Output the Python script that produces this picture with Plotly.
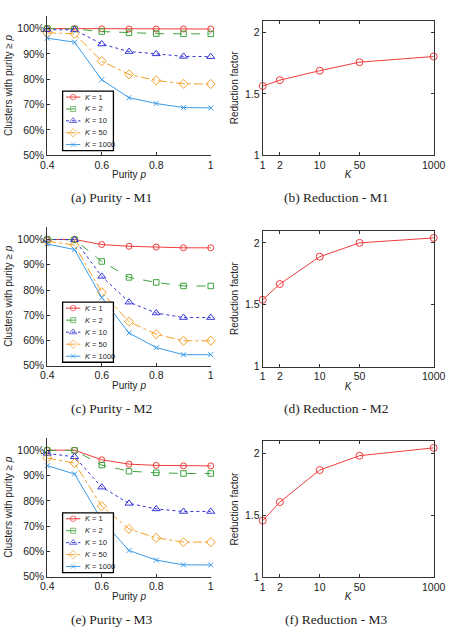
import plotly.graph_objects as go

W, H = 461, 635

purity = [0.4, 0.5, 0.6, 0.7, 0.8, 0.9, 1.0]
k_values = [1, 2, 10, 50, 1000]
k_labels = ["1", "2", "10", "50", "1000"]
pct_ticks = [50, 60, 70, 80, 90, 100]

# Purity curves (% of clusters with purity >= p), per method and K
m1_k1 = [100, 100, 99.9, 99.8, 99.8, 99.8, 99.8]
m1_k2 = [100, 99.8, 98.8, 98.3, 98.0, 97.9, 97.9]
m1_k10 = [99.5, 99.5, 93.9, 90.9, 90.0, 89.0, 88.9]
m1_k50 = [98.3, 97.9, 87.1, 81.9, 79.5, 78.2, 78.1]
m1_k1000 = [96.2, 94.6, 79.8, 72.7, 70.4, 68.8, 68.7]

m2_k1 = [100, 100, 98.0, 97.3, 97.0, 96.7, 96.7]
m2_k2 = [100, 99.9, 91.3, 85.0, 83.0, 81.6, 81.6]
m2_k10 = [100, 99.9, 85.4, 75.2, 70.9, 69.1, 69.1]
m2_k50 = [99.3, 97.8, 79.1, 67.5, 62.5, 59.9, 59.9]
m2_k1000 = [98.2, 96.0, 77.0, 63.0, 57.2, 54.4, 54.4]

m3_k1 = [100, 100, 96.2, 94.5, 94.0, 93.8, 93.8]
m3_k2 = [99.9, 99.9, 94.1, 91.7, 91.1, 90.8, 90.8]
m3_k10 = [98.7, 97.4, 85.4, 79.0, 76.8, 75.8, 75.8]
m3_k50 = [96.9, 94.9, 77.9, 68.9, 65.4, 63.7, 63.7]
m3_k1000 = [93.9, 90.6, 72.4, 60.4, 56.6, 54.7, 54.7]

# Reduction factor per K
m1_reduction = [1.565, 1.613, 1.69, 1.76, 1.806]
m2_reduction = [1.54, 1.667, 1.888, 2.0, 2.04]
m3_reduction = [1.456, 1.606, 1.864, 1.98, 2.043]

purity_sets = [
    [m1_k1, m1_k2, m1_k10, m1_k50, m1_k1000],
    [m2_k1, m2_k2, m2_k10, m2_k50, m2_k1000],
    [m3_k1, m3_k2, m3_k10, m3_k50, m3_k1000],
]
reduction_sets = [m1_reduction, m2_reduction, m3_reduction]
captions_left = ["(a) Purity - M1", "(c) Purity - M2", "(e) Purity - M3"]
captions_right = ["(b) Reduction - M1", "(d) Reduction - M2", "(f) Reduction - M3"]

# styles
colors = ["#f03c3c", "#3fa33f", "#3434d8", "#f5a028", "#3a9ae8"]
symbols = ["circle-open", "square-open", "triangle-up-open", "diamond-open", "x-thin-open"]
dashes = ["solid", "dash", "dot", "dashdot", "solid"]
msizes = [6, 5.5, 7, 7, 5]

FONT = "Liberation Sans"
TXT = "#222222"
AX = "#333333"

# pixel layout
left_x = (42, 212.5)
right_x = (266.7, 445)
left_rows = [(16, 156.7), (229, 369.3), (441.7, 582.3)]
right_rows = [(20.7, 156.7), (232.7, 370), (445, 582.7)]
legend_x = (58, 111)
legend_rows = [(92, 152), (305, 365.7), (517.7, 578)]
caption_y = [199, 412, 625]
caption_xl, caption_xr = 109, 344


def xd(a, b):
    return [a / W, b / W]


def yd(top, bottom):
    return [1 - bottom / H, 1 - top / H]


fig = go.Figure()
annotations = []
shapes = []
axes = {}

for r in range(3):
    ia, ib, il = 3 * r + 1, 3 * r + 2, 3 * r + 3
    sa = "" if ia == 1 else str(ia)

    # purity panel
    for j in range(5):
        fig.add_trace(go.Scatter(
            x=purity, y=purity_sets[r][j], mode="lines+markers",
            name="K = " + k_labels[j],
            line=dict(color=colors[j], width=1, dash=dashes[j]),
            marker=dict(symbol=symbols[j], size=msizes[j], color=colors[j],
                        line=dict(width=1, color=colors[j])),
            xaxis="x" + sa, yaxis="y" + sa, cliponaxis=False,
        ))
    axes["xaxis" + sa] = dict(
        domain=xd(*left_x), anchor="y" + sa, range=[0.4, 1.0],
        tickvals=[0.4, 0.6, 0.8, 1.0], ticktext=["0.4", "0.6", "0.8", "1"],
        showline=True, linecolor=AX, linewidth=1, mirror=False,
        ticks="inside", ticklen=3, tickcolor=AX, showgrid=False, zeroline=False,
        tickfont=dict(size=10.5, color=TXT),
        title=dict(text="Purity <i>p</i>", font=dict(size=10, color=TXT), standoff=1),
    )
    axes["yaxis" + sa] = dict(
        domain=yd(*left_rows[r]), anchor="x" + sa, range=[50, 105],
        tickvals=pct_ticks, ticktext=["%d%%" % v for v in pct_ticks],
        showline=True, linecolor=AX, linewidth=1, mirror=False,
        ticks="inside", ticklen=3, tickcolor=AX, showgrid=False, zeroline=False,
        tickfont=dict(size=10.5, color=TXT),
        title=dict(text="Clusters with purity \u2265 <i>p</i>",
                   font=dict(size=10, color=TXT), standoff=2),
    )

    # reduction panel
    fig.add_trace(go.Scatter(
        x=k_values, y=reduction_sets[r], mode="lines+markers",
        line=dict(color=colors[0], width=1),
        marker=dict(symbol="circle-open", size=7, color=colors[0],
                    line=dict(width=1, color=colors[0])),
        xaxis="x" + str(ib), yaxis="y" + str(ib), cliponaxis=False,
    ))
    axes["xaxis" + str(ib)] = dict(
        domain=xd(*right_x), anchor="y" + str(ib), type="log", range=[0, 3],
        tickvals=k_values, ticktext=k_labels,
        showline=True, linecolor=AX, linewidth=1, mirror="ticks",
        ticks="inside", ticklen=3, tickcolor=AX, showgrid=False, zeroline=False,
        tickfont=dict(size=10.5, color=TXT),
        title=dict(text="<i>K</i>", font=dict(size=10, color=TXT), standoff=1),
    )
    axes["yaxis" + str(ib)] = dict(
        domain=yd(*right_rows[r]), anchor="x" + str(ib), range=[1, 2.1],
        tickvals=[1, 1.5, 2], ticktext=["1", "1.5", "2"],
        showline=True, linecolor=AX, linewidth=1, mirror="ticks",
        ticks="inside", ticklen=3, tickcolor=AX, showgrid=False, zeroline=False,
        tickfont=dict(size=10.5, color=TXT),
        title=dict(text="Reduction factor", font=dict(size=10, color=TXT), standoff=4),
    )

    # custom legend box (drawn on its own small axes, over the purity panel)
    lw = legend_x[1] - legend_x[0]
    axes["xaxis" + str(il)] = dict(
        domain=xd(*legend_x), anchor="y" + str(il), range=[0, lw], visible=False,
    )
    axes["yaxis" + str(il)] = dict(
        domain=yd(*legend_rows[r]), anchor="x" + str(il), range=[4.5, -0.5], visible=False,
    )
    fig.add_trace(go.Scatter(
        x=[0, lw, lw, 0, 0], y=[-0.5, -0.5, 4.5, 4.5, -0.5], mode="lines",
        fill="toself", fillcolor="white", line=dict(width=0),
        xaxis="x" + str(il), yaxis="y" + str(il), hoverinfo="skip",
    ))
    shapes.append(dict(
        type="rect", xref="paper", yref="paper",
        x0=legend_x[0] / W, x1=legend_x[1] / W,
        y0=1 - legend_rows[r][1] / H, y1=1 - legend_rows[r][0] / H,
        line=dict(color="#000000", width=1.3), layer="above",
    ))
    for j in range(5):
        fig.add_trace(go.Scatter(
            x=[3.5, 11, 18.5], y=[j, j, j], mode="lines+markers",
            line=dict(color=colors[j], width=1, dash=dashes[j]),
            marker=dict(symbol=symbols[j], size=[0, msizes[j] - 0.5, 0], color=colors[j],
                        line=dict(width=1, color=colors[j])),
            xaxis="x" + str(il), yaxis="y" + str(il), hoverinfo="skip",
            cliponaxis=False,
        ))
        annotations.append(dict(
            xref="x" + str(il), yref="y" + str(il), x=21, y=j,
            text="<i>K</i> = " + k_labels[j], showarrow=False,
            xanchor="left", yanchor="middle",
            font=dict(size=7.5, color=TXT, family=FONT),
        ))

    # captions
    for cx, txt in ((caption_xl, captions_left[r]), (caption_xr, captions_right[r])):
        annotations.append(dict(
            xref="paper", yref="paper", x=cx / W, y=1 - caption_y[r] / H,
            text=txt, showarrow=False, xanchor="center", yanchor="middle",
            font=dict(family="Liberation Serif", size=13.5, color=TXT),
        ))

fig.update_layout(
    width=W, height=H, margin=dict(l=0, r=0, t=0, b=0),
    paper_bgcolor="white", plot_bgcolor="white", showlegend=False,
    font=dict(family=FONT, size=10, color=TXT),
    annotations=annotations, shapes=shapes,
    **axes,
)
fig.write_html("out.html")
